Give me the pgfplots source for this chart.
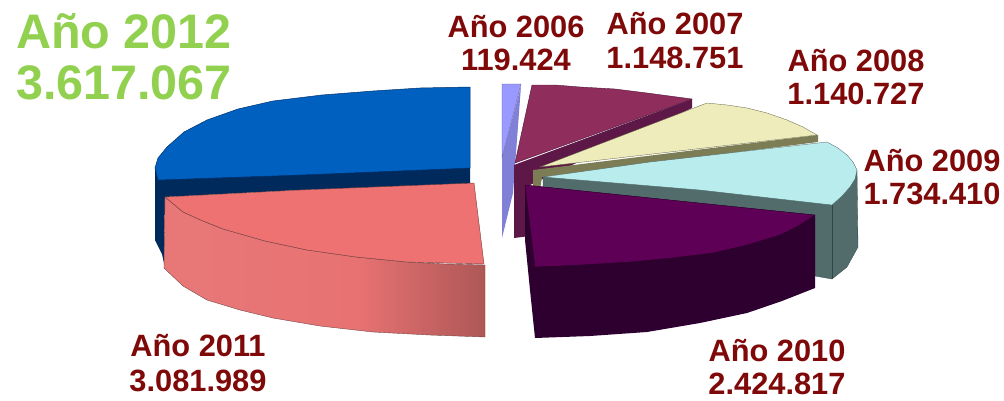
\documentclass[border=0pt]{standalone}
\usepackage{pgfplots}
\pgfplotsset{compat=1.18}
\usepackage{fontspec}
\setmainfont{Liberation Sans}
\definecolor{lab}{HTML}{7F0808}
\definecolor{tit}{HTML}{92D050}
\definecolor{pA}{HTML}{E87878}
\definecolor{pB}{HTML}{E87272}
\definecolor{pC}{HTML}{AE5757}
\pgfdeclarehorizontalshading{pinkside}{100bp}{color(0bp)=(pA); color(25bp)=(pA); color(55bp)=(pB); color(75bp)=(pC); color(100bp)=(pC)}
\begin{document}
\begin{tikzpicture}
\begin{axis}[width=1004pt,height=400pt,scale only axis,hide axis,xmin=0,xmax=1004,ymin=0,ymax=400,y dir=reverse,clip=false]
\addplot[draw=none] coordinates {(0,0)(1004,400)};
% 2012 blue
\addplot[draw=none,fill={rgb,255:red,0;green,42;blue,92}] coordinates {(470,168)(470,186)(300,190)(165,197)(165,268)(162,254)(155,240)(155,168)} --cycle;
\addplot[fill={rgb,255:red,0;green,96;blue,192},draw={rgb,255:red,0;green,50;blue,110},line width=0.5pt] coordinates {(470,87)(420,88)(373,91)(322,95)(273,101)(238,109)(207,120)(184,132)(167,147)(158,158)(155,168)(158,180)(300,175)(470,168)} --cycle;
% 2011 pink
\addplot[shading=pinkside,draw={rgb,255:red,120;green,70;blue,70},line width=0.4pt] coordinates {(165,197)(183,212)(203,221)(223,229)(265,241)(307,250)(356,257)(407,262)(445,264)(485,265)(485,337)(430,335)(373,332)(320,326)(273,318)(240,310)(207,300)(183,286)(164,268)} --cycle;
\addplot[fill={rgb,255:red,238;green,114;blue,114},draw={rgb,255:red,110;green,60;blue,60},line width=0.4pt] coordinates {(165,197)(300,190)(474,183)(484,264)(445,263)(407,262)(356,257)(307,250)(265,241)(223,229)(203,221)(183,212)} --cycle;
% 2006 light blue
\addplot[fill={rgb,255:red,128;green,128;blue,214},draw=none] coordinates {(521,86)(513,193)(502,238)(502,158)} --cycle;
\addplot[fill={rgb,255:red,153;green,153;blue,255},draw={rgb,255:red,90;green,90;blue,150},line width=0.3pt] coordinates {(502,84)(521,84)(502,158)} --cycle;
% 2007 crimson
\addplot[fill={rgb,255:red,94;green,24;blue,72},draw=none] coordinates {(692,99)(692,108)(530,185)(530,236)(514,238)(514,165)} --cycle;
\addplot[fill={rgb,255:red,143;green,46;blue,92},draw={rgb,255:red,80;green,20;blue,60},line width=0.4pt] coordinates {(532,85)(555,85)(580,87)(615,89)(647,93)(692,99)(515,163)} --cycle;
% 2008 yellow
\addplot[fill={rgb,255:red,125;green,125;blue,85},draw=none] coordinates {(818,135)(818,142)(542,177)(540,190)(533,190)(533,170)} --cycle;
\addplot[fill={rgb,255:red,237;green,236;blue,186},draw={rgb,255:red,90;green,90;blue,60},line width=0.3pt] coordinates {(707,103)(727,105)(747,108)(767,113)(787,120)(803,127)(817,135)(540,167)} --cycle;
% 2009 cyan
\addplot[fill={rgb,255:red,82;green,108;blue,108},draw={rgb,255:red,50;green,70;blue,70},line width=0.3pt] coordinates {(857,170)(858,247)(847,267)(832,279)(815,276)(815,218)(543,192)(543,177)} --cycle;
\addplot[draw={rgb,255:red,50;green,70;blue,70},line width=0.4pt] coordinates {(832,205)(832,279)};
\addplot[fill={rgb,255:red,185;green,236;blue,236},draw={rgb,255:red,70;green,95;blue,95},line width=0.3pt] coordinates {(827,142)(838,148)(847,155)(853,162)(857,170)(855,179)(850,187)(842,196)(832,205)(700,190)(543,177)(650,162)} --cycle;
% 2010 purple
\addplot[fill={rgb,255:red,45;green,0;blue,48},draw=none] coordinates {(525,185)(815,215)(815,288)(782,301)(747,313)(700,323)(647,332)(590,336)(535,338)(530,290)(525,240)} --cycle;
\addplot[fill={rgb,255:red,94;green,0;blue,85},draw={rgb,255:red,35;green,0;blue,35},line width=0.3pt] coordinates {(525,185)(815,215)(798,226)(780,235)(747,245)(713,253)(672,258)(630,262)(580,265)(535,267)} --cycle;
% labels
\tikzset{lb/.style={font=\bfseries\fontsize{30.8}{31}\selectfont,text=lab,align=center,inner sep=0pt}}
\node[lb] at (axis cs:516,43) {Año 2006\\[2pt]119.424};
\node[lb] at (axis cs:675,41) {Año 2007\\[3pt]1.148.751};
\node[lb] at (axis cs:856,77) {Año 2008\\[2pt]1.140.727};
\node[lb] at (axis cs:932,177) {Año 2009\\[2pt]1.734.410};
\node[lb] at (axis cs:777,367) {Año 2010\\[2pt]2.424.817};
\node[lb] at (axis cs:198,363) {Año 2011\\[4pt]3.081.989};
\node[font=\bfseries\fontsize{48.5}{48.5}\selectfont,text=tit,align=center,inner sep=0pt] at (axis cs:124,57) {Año 2012\\[3pt]3.617.067};
\end{axis}
\end{tikzpicture}
\end{document}
